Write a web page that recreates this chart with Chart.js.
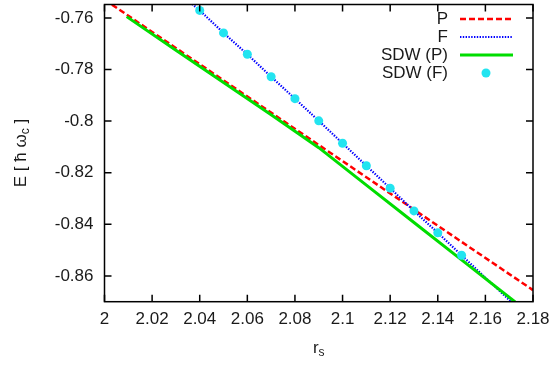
<!DOCTYPE html>
<html>
<head>
<meta charset="utf-8">
<script src="https://cdn.jsdelivr.net/npm/chart.js@4"></script>
<style>
  html, body { margin: 0; padding: 0; background: #fff; }
  #wrap { width: 555px; height: 366px; }
</style>
</head>
<body>
<div id="wrap"><canvas id="chart"></canvas></div>
<script>
// axis ticks
const xTicks = [2, 2.02, 2.04, 2.06, 2.08, 2.1, 2.12, 2.14, 2.16, 2.18];
const xTickLabels = ['2', '2.02', '2.04', '2.06', '2.08', '2.1', '2.12', '2.14', '2.16', '2.18'];
const yTicks = [-0.86, -0.84, -0.82, -0.8, -0.78, -0.76];
const yTickLabels = ['-0.86', '-0.84', '-0.82', '-0.8', '-0.78', '-0.76'];

// P (paramagnetic)
const pRs = [2.0, 2.05, 2.1, 2.15, 2.18];
const pE = [-0.7529, -0.7842, -0.8155, -0.8468, -0.8655];

// F (ferromagnetic)
const fRs = [2.035, 2.04, 2.05, 2.06, 2.07, 2.08, 2.09, 2.1, 2.11, 2.12, 2.13, 2.14, 2.15, 2.16, 2.172];
const fE = [-0.7532, -0.7571, -0.7658, -0.7741, -0.7828, -0.7913, -0.7999, -0.8086, -0.8173, -0.8260, -0.8348, -0.8433, -0.8520, -0.8607, -0.8710];

// SDW starting from P
const sdwPRs = [2.0093, 2.03, 2.05, 2.07, 2.09, 2.11, 2.13, 2.15, 2.1725];
const sdwPE = [-0.7595, -0.7725, -0.785, -0.7975, -0.8103, -0.8248, -0.8393, -0.8538, -0.8701];

// SDW starting from F
const sdwFRs = [2.04, 2.05, 2.06, 2.07, 2.08, 2.09, 2.1, 2.11, 2.12, 2.13, 2.14, 2.15];
const sdwFE = [-0.7571, -0.7658, -0.7741, -0.7828, -0.7913, -0.7999, -0.8086, -0.8173, -0.8260, -0.8348, -0.8433, -0.8520];

const FONT = '"Liberation Sans", Arial, sans-serif';
const TXT = '#1a1a1a';

const pts = (xs, ys) => xs.map((v, i) => ({ x: v, y: ys[i] }));

// inward ticks on all four sides + box
const framePlugin = {
  id: 'frame',
  afterDatasetsDraw(chart) {
    const { ctx, chartArea: a, scales: { x, y } } = chart;
    ctx.save();
    ctx.strokeStyle = '#000';
    ctx.lineWidth = 1.5;
    ctx.beginPath();
    xTicks.forEach(v => {
      const px = x.getPixelForValue(v);
      ctx.moveTo(px, a.bottom); ctx.lineTo(px, a.bottom - 7);
      ctx.moveTo(px, a.top); ctx.lineTo(px, a.top + 7);
    });
    yTicks.forEach(v => {
      const py = y.getPixelForValue(v);
      ctx.moveTo(a.left, py); ctx.lineTo(a.left + 7, py);
      ctx.moveTo(a.right, py); ctx.lineTo(a.right - 7, py);
    });
    ctx.stroke();
    ctx.strokeRect(a.left, a.top, a.right - a.left, a.bottom - a.top);
    ctx.restore();
  }
};

// text with a subscript piece, centred on (0,0) of current transform
function drawParts(ctx, parts, size) {
  const big = size + 'px ' + FONT, small = Math.round(size * 0.7) + 'px ' + FONT;
  let w = 0;
  parts.forEach(p => { ctx.font = p.sub ? small : big; w += ctx.measureText(p.t).width; });
  let cx = -w / 2;
  parts.forEach(p => {
    ctx.font = p.sub ? small : big;
    ctx.fillText(p.t, cx, p.sub ? size * 0.3 : 0);
    cx += ctx.measureText(p.t).width;
  });
}

const titlesPlugin = {
  id: 'titles',
  afterDraw(chart) {
    const { ctx, chartArea: a } = chart;
    ctx.save();
    ctx.fillStyle = TXT;
    ctx.textBaseline = 'middle';
    ctx.textAlign = 'left';
    ctx.save();
    ctx.translate((a.left + a.right) / 2, 348);
    drawParts(ctx, [{ t: 'r' }, { t: 's', sub: true }], 17);
    ctx.restore();
    ctx.save();
    ctx.translate(21, (a.top + a.bottom) / 2);
    ctx.rotate(-Math.PI / 2);
    drawParts(ctx, [{ t: 'E [ ħ ω' }, { t: 'c', sub: true }, { t: ' ]' }], 17);
    ctx.restore();
    ctx.restore();
  }
};

// gnuplot-style key: right aligned text, sample on the right
const keyPlugin = {
  id: 'key',
  afterDraw(chart) {
    const { ctx } = chart;
    ctx.save();
    ctx.font = '17px ' + FONT;
    ctx.textBaseline = 'middle';
    chart.data.datasets.forEach((ds, i) => {
      const yy = 19 + i * 18;
      ctx.fillStyle = TXT;
      ctx.textAlign = 'right';
      ctx.fillText(ds.label, 448, yy);
      if (ds.showLine) {
        ctx.strokeStyle = ds.borderColor;
        ctx.lineWidth = ds.borderWidth;
        ctx.setLineDash(ds.borderDash || []);
        ctx.beginPath();
        ctx.moveTo(460, yy); ctx.lineTo(513, yy);
        ctx.stroke();
        ctx.setLineDash([]);
      } else {
        ctx.fillStyle = ds.pointBackgroundColor;
        ctx.beginPath();
        ctx.arc(486, yy, ds.pointRadius, 0, Math.PI * 2);
        ctx.fill();
      }
    });
    ctx.restore();
  }
};

new Chart(document.getElementById('chart'), {
  type: 'scatter',
  data: {
    datasets: [
      { label: 'P', data: pts(pRs, pE), showLine: true, borderColor: '#ff0000', borderWidth: 2.5, borderDash: [6, 3], pointRadius: 0, order: 4 },
      { label: 'F', data: pts(fRs, fE), showLine: true, borderColor: '#0000ff', borderWidth: 2.2, borderDash: [1.4, 1.4], pointRadius: 0, order: 3 },
      { label: 'SDW (P)', data: pts(sdwPRs, sdwPE), showLine: true, borderColor: '#00dd00', borderWidth: 3, pointRadius: 0, order: 2 },
      { label: 'SDW (F)', data: pts(sdwFRs, sdwFE), showLine: false, pointRadius: 4.5, pointBackgroundColor: '#22e4f0', pointBorderWidth: 0, borderColor: '#22e4f0', order: 1 }
    ]
  },
  plugins: [framePlugin, titlesPlugin, keyPlugin],
  options: {
    responsive: true,
    maintainAspectRatio: false,
    animation: false,
    layout: { padding: { top: 1.5, right: 22, left: 0, bottom: 0 } },
    plugins: { legend: { display: false }, tooltip: { enabled: false } },
    scales: {
      x: {
        type: 'linear',
        min: 2,
        max: 2.18,
        grid: { display: false, drawTicks: false },
        border: { display: false },
        afterBuildTicks: s => { s.ticks = xTicks.map(v => ({ value: v })); },
        afterFit: s => { s.height = 64.3; s.paddingLeft = 0; s.paddingRight = 0; },
        ticks: {
          autoSkip: false,
          maxRotation: 0,
          padding: 7,
          color: TXT,
          font: { family: FONT, size: 17 },
          callback: (v, i) => xTickLabels[i]
        }
      },
      y: {
        type: 'linear',
        min: -0.87,
        max: -0.7548,
        grid: { display: false, drawTicks: false },
        border: { display: false },
        afterBuildTicks: s => { s.ticks = yTicks.map(v => ({ value: v })); },
        afterFit: s => { s.width = 104.5; s.paddingTop = 0; s.paddingBottom = 0; },
        ticks: {
          autoSkip: false,
          padding: 11,
          color: TXT,
          font: { family: FONT, size: 17 },
          callback: (v, i) => yTickLabels[i]
        }
      }
    }
  }
});
</script>
</body>
</html>
